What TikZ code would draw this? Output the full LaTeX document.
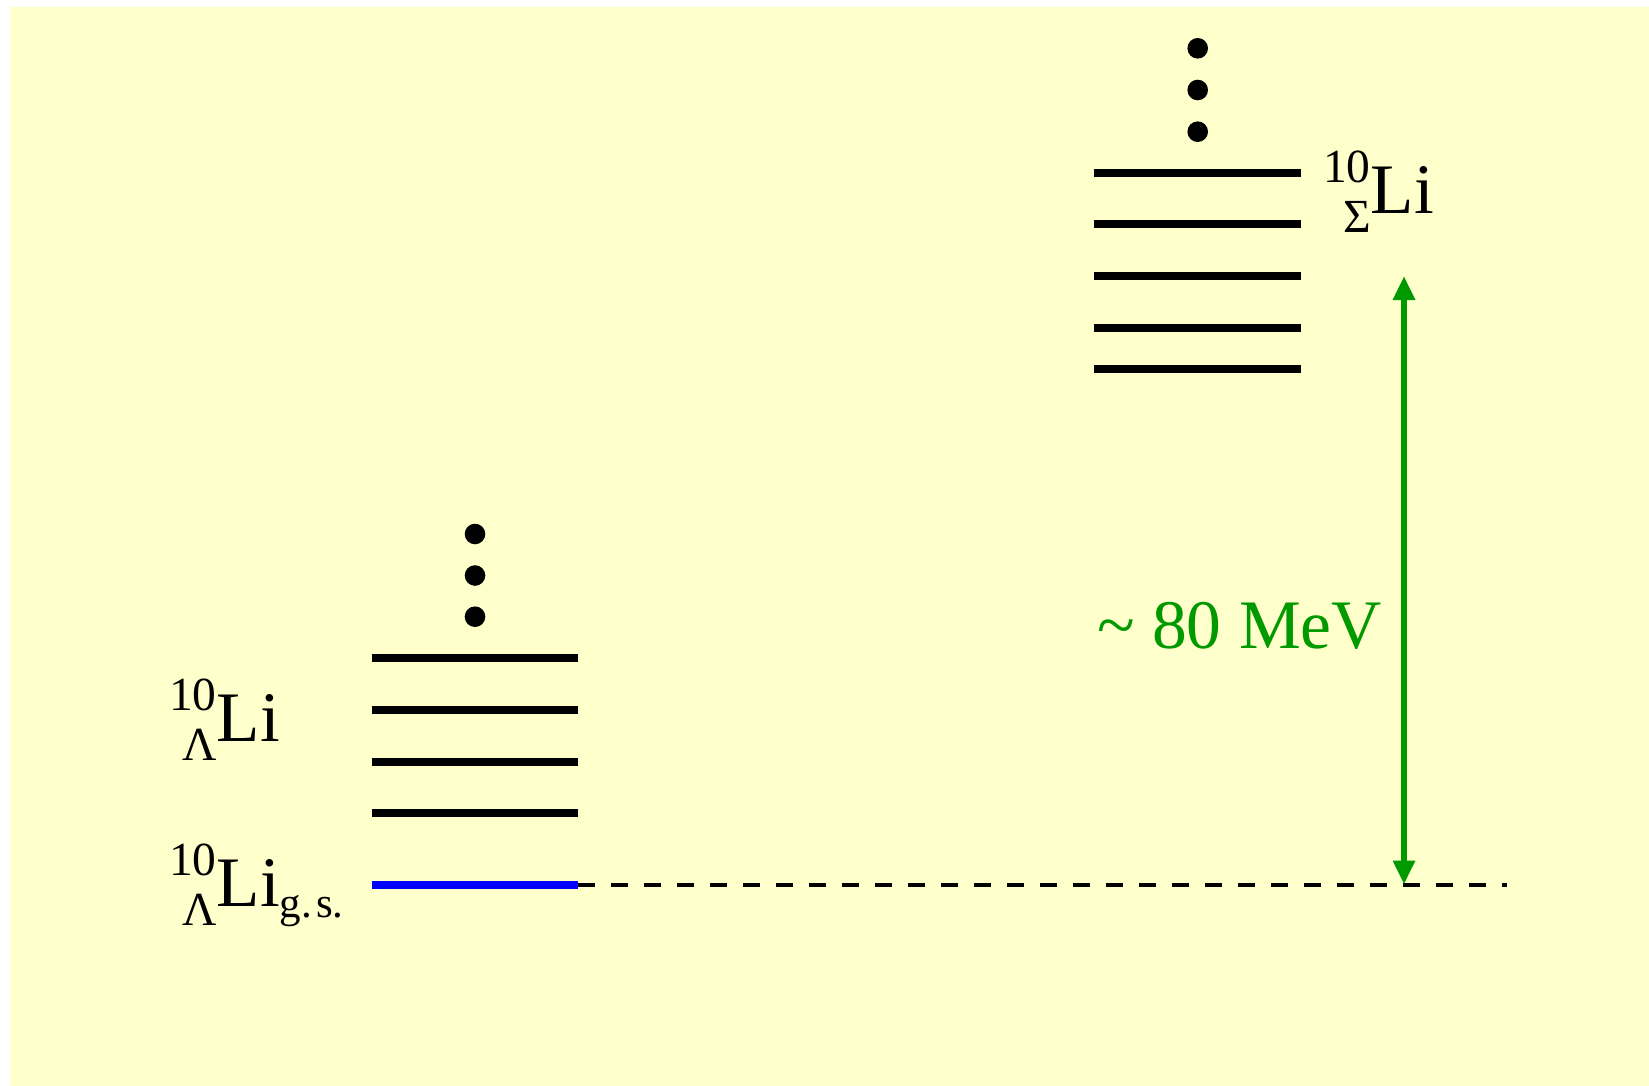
\documentclass[tikz,border=0pt]{standalone}
\usepackage{fontspec}
\setmainfont{Liberation Serif}
\usetikzlibrary{arrows.meta}

\definecolor{paper}{RGB}{255,255,204}
\definecolor{gapgreen}{RGB}{0,153,0}
\definecolor{gsblue}{RGB}{0,0,255}

% hypernucleus symbol: mass number above, hyperon below, both left of the element
\newcommand\hypnuc[2]{%
  {\fontsize{47.5}{47.5}\selectfont
   \setbox0\hbox{#1}\setbox2\hbox{#2}%
   \dimen0=\wd0
   \rlap{\raise31pt\box0}\hbox to\dimen0{\hfil\lower19.5pt\box2}}}

\tikzset{
  level/.style={line width=8pt, black},
  gslevel/.style={line width=8pt, gsblue},
  dot/.style={fill=black},
  refline/.style={line width=4pt, black, dash pattern=on 17pt off 16pt},
  gap/.style={line width=6pt, gapgreen,
    {Triangle[length=24pt,width=21pt]}-{Triangle[length=24pt,width=21pt]}},
  lbl/.style={anchor=base west, inner sep=0pt, font=\fontsize{71}{84}\selectfont},
}

\begin{document}
\begin{tikzpicture}[x=1pt, y=-1pt]
  \useasboundingbox (0,0) rectangle (1649,1086);
  \fill[white] (0,0) rectangle (1649,1086);
  \fill[paper] (10,7) rectangle (1649,1086);

  % Lambda hypernucleus levels
  \foreach \yy in {658.3, 710, 761.7, 813.3}
    \draw[level] (371.7,\yy) -- (578.3,\yy);
  \coordinate (gsL) at (371.7,885.3);
  \coordinate (gsR) at (578.3,885.3);
  \draw[gslevel] (gsL) -- (gsR);
  \foreach \yy in {534, 575.5, 616.7}
    \fill[dot] (475,\yy) circle (10.3);

  % Sigma hypernucleus levels
  \foreach \yy in {172.7, 224.3, 276, 327.7, 369}
    \draw[level] (1094.3,\yy) -- (1301,\yy);
  \foreach \yy in {48.3, 90, 131.7}
    \fill[dot] (1197.7,\yy) circle (10.3);

  % reference line at the ground state
  \coordinate (refend) at (1507,885.3);
  \draw[refline] (gsR) -- (refend);

  % energy gap
  \coordinate (gapbot) at (1404,884.5);
  \coordinate (gaptop) at (1404,276);
  \draw[gap] (gapbot) -- (gaptop);

  % labels
  \node[lbl] (lamLi) at (169,741) {\hypnuc{10}{Λ}Li};
  \node[lbl] (lamgs) at (169,906) {\hypnuc{10}{Λ}Li\raisebox{-11pt}{\fontsize{43}{43}\selectfont g.\hspace{4pt}s.}};
  \node[lbl] (sigLi) at (1323,213.3) {\hypnuc{10}{Σ}Li};
  \node[lbl, font=\fontsize{69.5}{84}\selectfont, text=gapgreen] (gaplbl) at (1097,648.3) {\textasciitilde{} 80 MeV};
\end{tikzpicture}
\end{document}
